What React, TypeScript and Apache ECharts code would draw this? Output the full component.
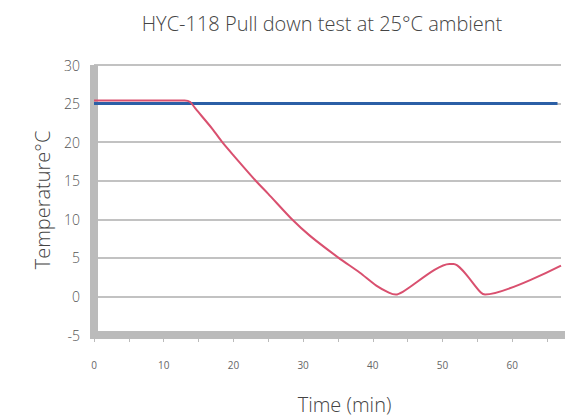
import React, { useEffect, useRef } from "react";
import * as echarts from "echarts";

const titleText = "HYC-118 Pull down test at 25°C ambient";
const xName = "Time (min)";
const yName = "Temperature°C";

const pullDownTimes = [0, 13, 13.8, 14.6, 17, 18.4, 20, 23.2, 25, 28.4, 31, 35.1, 38.1, 40.5, 42.3, 43.3, 44.3, 51, 51.6, 55.5, 56.1, 67];
const pullDownTemps = [25.4, 25.4, 25.2, 24.3, 21.7, 20, 18.3, 15, 13.3, 10, 7.85, 5, 3.1, 1.4, 0.5, 0.25, 0.6, 4.2, 4.2, 0.5, 0.25, 4.0];

const ambientTimes = [0, 66.5];
const ambientTemps = [25, 25];

const FONT = "'Open Sans', Lato, sans-serif";

export default function App() {
  const ref = useRef<HTMLDivElement>(null);
  useEffect(() => {
    if (!ref.current) return;
    const chart = echarts.init(ref.current, undefined, { renderer: "svg" });
    chart.setOption({
      animation: false,
      backgroundColor: "#ffffff",
      title: {
        text: titleText,
        left: 317,
        textAlign: "center",
        top: 8,
        textStyle: { fontFamily: FONT, fontWeight: 300, fontSize: 20, color: "#444" },
      },
      grid: { left: 94, right: 11, top: 65, bottom: 80 },
      xAxis: {
        type: "value",
        min: 0,
        max: 67,
        interval: 5,
        name: xName,
        nameLocation: "middle",
        nameGap: 59,
        nameTextStyle: { fontFamily: FONT, fontWeight: 300, fontSize: 20, color: "#444", padding: [0, 0, 0, 34] },
        axisLine: { show: true, onZero: false, lineStyle: { color: "#bbbbbb", width: 8, cap: "square" } },
        axisTick: { show: true, length: 7, lineStyle: { color: "#bbbbbb", width: 1 } },
        axisLabel: {
          margin: 25,
          fontFamily: FONT,
          fontSize: 10,
          color: "#666",
          showMaxLabel: false,
          formatter: (v: number) => (v % 10 === 0 ? String(v) : ""),
        },
        splitLine: { show: false },
      },
      yAxis: {
        type: "value",
        min: -5,
        max: 30,
        interval: 5,
        name: yName,
        nameLocation: "middle",
        nameGap: 42,
        nameTextStyle: { fontFamily: FONT, fontWeight: 300, fontSize: 20, color: "#444" },
        axisLine: { show: true, onZero: false, lineStyle: { color: "#bbbbbb", width: 8, cap: "butt" } },
        axisTick: { show: false },
        axisLabel: { margin: 14, fontFamily: FONT, fontWeight: 300, fontSize: 14, color: "#555" },
        splitLine: { show: true, lineStyle: { color: "#c2c2c2", width: 2 } },
      },
      series: [
        {
          type: "line",
          data: ambientTimes.map((t, i) => [t, ambientTemps[i]]),
          showSymbol: false,
          lineStyle: { color: "#2b5fa6", width: 3 },
          z: 2,
        },
        {
          type: "line",
          data: pullDownTimes.map((t, i) => [t, pullDownTemps[i]]),
          showSymbol: false,
          smooth: 0.25,
          lineStyle: { color: "#d9506f", width: 2 },
          z: 3,
        },
      ],
    });
    return () => chart.dispose();
  }, []);
  return <div ref={ref} style={{ width: 572, height: 419, position: "absolute", left: 0, top: 0 }} />;
}
